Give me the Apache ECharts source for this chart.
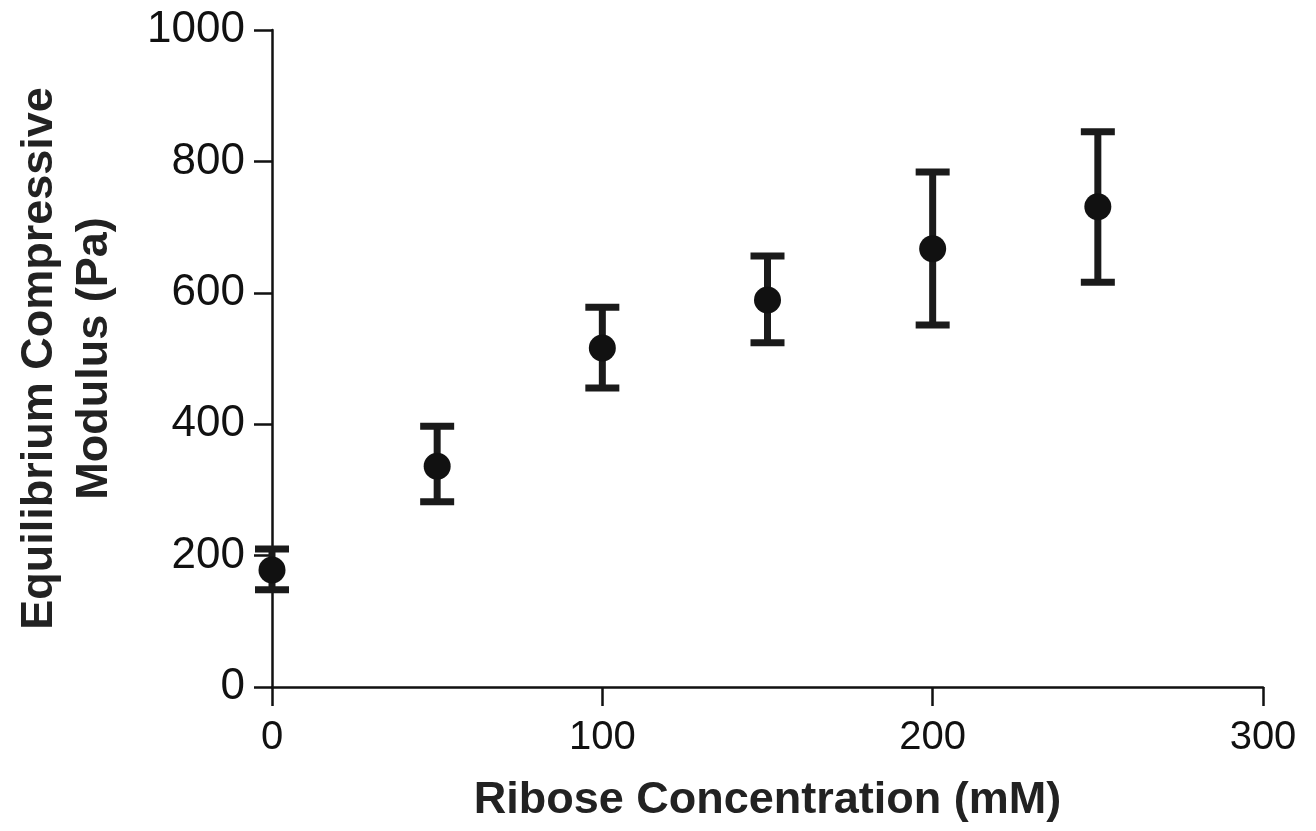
<!DOCTYPE html>
<html>
<head>
<meta charset="utf-8">
<script src="https://cdn.jsdelivr.net/npm/echarts@6/dist/echarts.min.js"></script>
<style>
  html, body { margin: 0; padding: 0; background: #fff; }
  #chart { width: 1316px; height: 831px; }
</style>
</head>
<body>
<div id="chart"></div>
<script>
// ribose concentration (mM) vs modulus (Pa), mean with error range
const concentrations = [0, 50, 100, 150, 200, 250]
const meanModulus = [178, 336, 516, 589, 667, 731]
const upperModulus = [210, 397, 578, 656, 784, 845]
const lowerModulus = [148, 282, 455, 524, 551, 616]

const errorData = concentrations.map((c, i) => [c, lowerModulus[i], upperModulus[i]])
const meanData = concentrations.map((c, i) => [c, meanModulus[i]])

const chart = echarts.init(document.getElementById('chart'))

const fontFamily = 'Liberation Sans, Arial, sans-serif'

chart.setOption({
  animation: false,
  grid: { left: 272, right: 53, top: 30, bottom: 144, outerBoundsMode: 'none', containLabel: false },
  xAxis: {
    type: 'value',
    min: 0,
    max: 300,
    interval: 100,
    name: 'Ribose Concentration (mM)',
    nameLocation: 'middle',
    nameGap: 89,
    nameTextStyle: { fontFamily, fontSize: 45, fontWeight: 'bold', color: '#222', lineHeight: 50 },
    axisLine: { show: true, lineStyle: { color: '#111', width: 2.5 } },
    axisTick: { show: true, length: 19, lineStyle: { color: '#111', width: 2.5 } },
    axisLabel: { fontFamily, fontSize: 40, color: '#111', margin: 31, formatter: v => String(v) },
    splitLine: { show: false }
  },
  yAxis: {
    type: 'value',
    min: 0,
    max: 1000,
    interval: 200,
    name: 'Equilibrium Compressive\nModulus (Pa)',
    nameLocation: 'middle',
    nameGap: 150,
    nameTextStyle: { fontFamily, fontSize: 45, fontWeight: 'bold', color: '#222', lineHeight: 55 },
    axisLine: { show: true, lineStyle: { color: '#111', width: 2.5 } },
    axisTick: { show: true, length: 18, lineStyle: { color: '#111', width: 2.5 } },
    axisLabel: { fontFamily, fontSize: 44, color: '#111', margin: 27, formatter: v => String(v) },
    splitLine: { show: false }
  },
  series: [
    {
      type: 'custom',
      data: errorData,
      clip: false,
      renderItem: function (params, api) {
        const x = api.value(0)
        const lo = api.coord([x, api.value(1)])
        const hi = api.coord([x, api.value(2)])
        const half = 17
        const style = { stroke: '#1a1a1a', lineWidth: 7, lineCap: 'butt' }
        return {
          type: 'group',
          children: [
            { type: 'line', shape: { x1: hi[0], y1: hi[1], x2: lo[0], y2: lo[1] }, style: style },
            { type: 'line', shape: { x1: hi[0] - half, y1: hi[1], x2: hi[0] + half, y2: hi[1] }, style: style },
            { type: 'line', shape: { x1: lo[0] - half, y1: lo[1], x2: lo[0] + half, y2: lo[1] }, style: style }
          ]
        }
      },
      z: 2
    },
    {
      type: 'scatter',
      data: meanData,
      symbol: 'circle',
      symbolSize: 27,
      clip: false,
      itemStyle: { color: '#111', opacity: 1 },
      z: 3
    }
  ]
})
</script>
</body>
</html>
